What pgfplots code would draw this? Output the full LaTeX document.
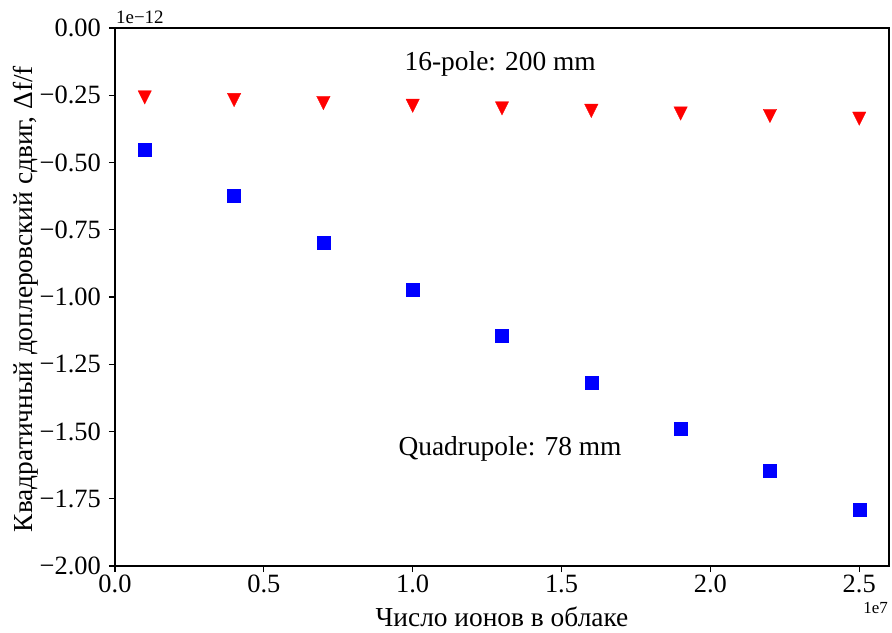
\documentclass[border=0pt]{standalone}
\usepackage{fontspec}
\setmainfont{Liberation Serif}
\usepackage{pgfplots}
\pgfplotsset{compat=1.18}
\pgfdeclareplotmark{tridown}{%
  \pgfpathmoveto{\pgfqpoint{0pt}{-\pgfplotmarksize}}%
  \pgfpathlineto{\pgfqpoint{\pgfplotmarksize}{\pgfplotmarksize}}%
  \pgfpathlineto{\pgfqpoint{-\pgfplotmarksize}{\pgfplotmarksize}}%
  \pgfpathclose\pgfusepathqfillstroke}
\begin{document}
\begin{tikzpicture}
\path[use as bounding box] (-115bp,-67bp) rectangle (777bp,566bp);
\begin{axis}[
  at={(0,0)}, anchor=south west,
  scale only axis, width=774bp, height=538bp,
  xmin=0, xmax=2.6, ymin=-2.0, ymax=0.0,
  axis line style={line width=1.1bp},
  tick style={line width=1.1bp, black},
  tick align=outside, major tick length=6bp,
  xtick pos=bottom, ytick pos=left,
  xtick={0,0.5,1.0,1.5,2.0,2.5},
  xticklabels={0.0,0.5,1.0,1.5,2.0,2.5},
  ytick={-2.0,-1.75,-1.5,-1.25,-1.0,-0.75,-0.5,-0.25,0},
  yticklabels={−2.00,−1.75,−1.50,−1.25,−1.00,−0.75,−0.50,−0.25,0.00},
  ticklabel style={font=\fontsize{26.5}{30}\selectfont},
  xticklabel style={inner sep=0pt, yshift=-3bp},
  yticklabel style={inner sep=0pt, xshift=-8bp},
  clip=false,
]
\addplot[only marks, mark=tridown, mark size=6.7bp, color=red, fill=red, line width=0.3bp]
coordinates {
(0.1,-0.258) (0.4,-0.268) (0.7,-0.279) (1.0,-0.289) (1.3,-0.299)
(1.6,-0.308) (1.9,-0.318) (2.2,-0.327) (2.5,-0.337)
};
\addplot[only marks, mark=square*, mark size=6.5bp, color=blue, fill=blue, line width=0.3bp]
coordinates {
(0.1,-0.4535) (0.4,-0.6245) (0.7,-0.799) (1.0,-0.974) (1.3,-1.145)
(1.6,-1.320) (1.9,-1.488) (2.2,-1.644) (2.5,-1.792)
};
\node[font=\fontsize{27.5}{32}\selectfont, anchor=center] at (axis cs:1.294,-0.134) {16-pole: 200 mm};
\node[font=\fontsize{27.5}{32}\selectfont, anchor=center] at (axis cs:1.327,-1.565) {Quadrupole: 78 mm};
\node[font=\fontsize{19}{22}\selectfont, anchor=south west, inner sep=0pt] at (rel axis cs:0,1) [yshift=4bp, xshift=1bp] {1e−12};
\node[font=\fontsize{17}{20}\selectfont, anchor=north east, inner sep=0pt] at (rel axis cs:1,0) [yshift=-36bp, xshift=-1bp] {1e7};
\node[font=\fontsize{27.5}{32}\selectfont, anchor=center, inner sep=0pt] at (rel axis cs:0.5,0) [yshift=-51bp] {Число ионов в облаке};
\node[font=\fontsize{27.5}{32}\selectfont, xshift=-89bp, yshift=-2bp, rotate=90, anchor=center, inner sep=0pt] at (rel axis cs:0,0.5) {Квадратичный доплеровский сдвиг, Δf/f};
\end{axis}
\end{tikzpicture}
\end{document}
